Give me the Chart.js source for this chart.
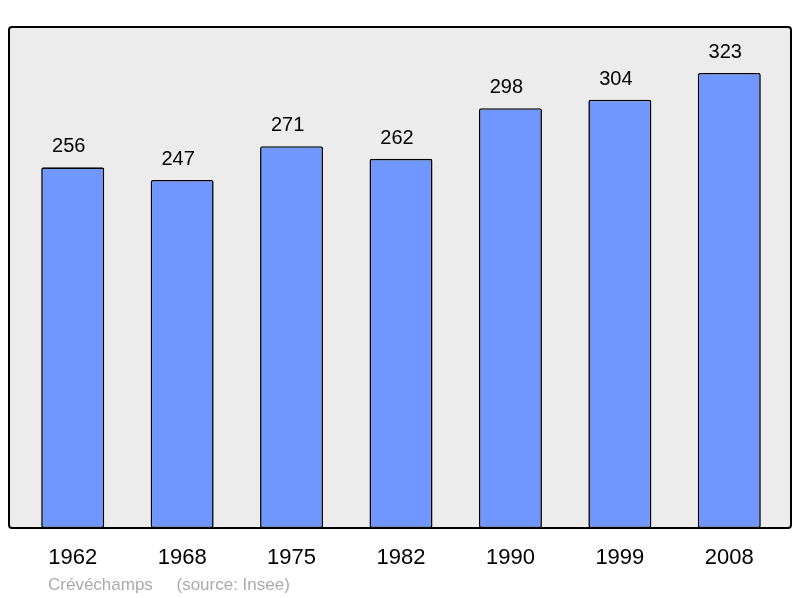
<!DOCTYPE html>
<html>
<head>
<meta charset="utf-8">
<script src="https://cdn.jsdelivr.net/npm/chart.js@4"></script>
<style>
  html, body { margin: 0; padding: 0; background: #fff; }
  #wrap { position: relative; width: 800px; height: 598px; }
</style>
</head>
<body>
<div id="wrap"><canvas id="chart" width="800" height="598"></canvas></div>
<script>
const years = ['1962', '1968', '1975', '1982', '1990', '1999', '2008'];
const population = [256, 247, 271, 262, 298, 304, 323];
const sourceText = 'Crévéchamps     (source: Insee)';

// grey panel with black frame behind the bars
const panel = {
    id: 'panel',
    beforeDraw(chart) {
        const c = chart.ctx;
        c.save();
        c.fillStyle = '#ececec';
        c.strokeStyle = '#000';
        c.lineWidth = 2;
        c.beginPath();
        c.roundRect(9, 27, 782, 501, 3);
        c.fill();
        c.stroke();
        c.restore();
    },
    afterDraw(chart) {
        const c = chart.ctx;
        c.save();
        c.font = '20px "Liberation Sans", Arial, sans-serif';
        c.fillStyle = '#000';
        c.textAlign = 'center';
        c.textBaseline = 'alphabetic';
        chart.getDatasetMeta(0).data.forEach((bar, i) => {
            c.fillText(population[i], bar.x - 4, bar.y - 15);
        });
        c.font = '17px "Liberation Sans", Arial, sans-serif';
        c.fillStyle = '#aaaaaa';
        c.textAlign = 'left';
        c.fillText(sourceText, 48, 590);
        c.restore();
    }
};

new Chart(document.getElementById('chart').getContext('2d'), {
    type: 'bar',
    data: {
        labels: years,
        datasets: [{
            data: population,
            backgroundColor: '#7097ff',
            borderColor: '#000',
            borderWidth: 1.6,
            borderRadius: 2,
            borderSkipped: false,
            barPercentage: 0.576,
            categoryPercentage: 1,
        }],
    },
    options: {
        responsive: false,
        animation: false,
        layout: { padding: { left: 18, right: 16, top: 27, bottom: 0 } },
        plugins: { legend: { display: false }, tooltip: { enabled: false } },
        scales: {
            x: {
                grid: { display: false, drawTicks: false },
                border: { display: false },
                ticks: {
                    color: '#000',
                    padding: 17,
                    font: { size: 22, family: '"Liberation Sans", Arial, sans-serif' },
                },
                afterFit(scale) { scale.height = 70; },
            },
            y: {
                display: false,
                min: 0,
                max: 355.6,
            },
        },
    },
    plugins: [panel],
});
</script>
</body>
</html>
